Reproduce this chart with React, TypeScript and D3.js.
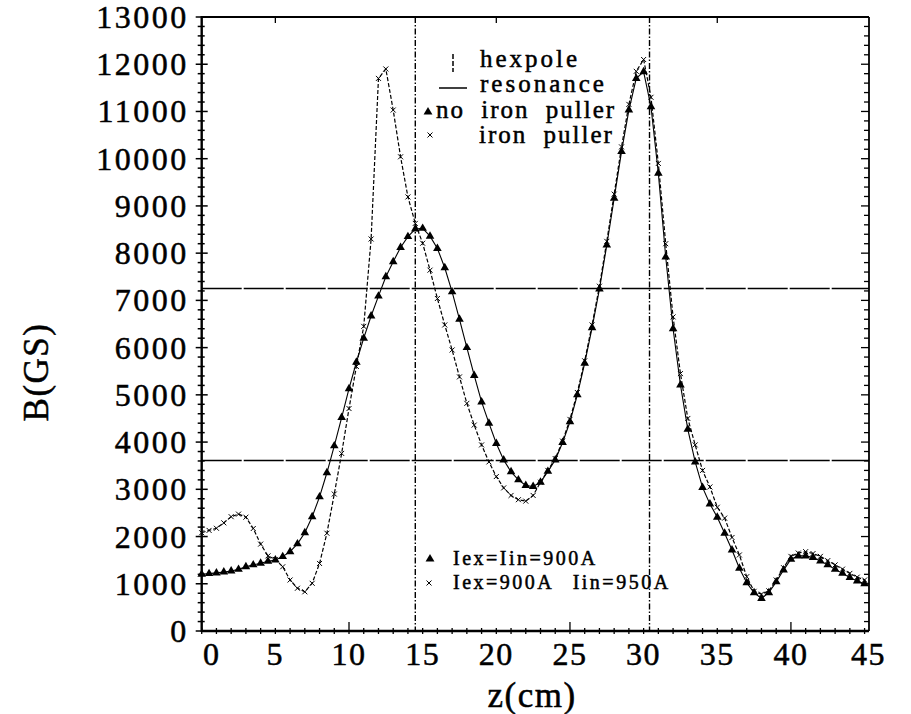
import React from "react";
import * as d3 from "d3";

// z positions (cm) of the measured points
const zPos = [
  0, 0.5, 1, 1.5, 2, 2.5, 3, 3.5, 4, 4.5, 5, 5.5, 6, 6.5, 7, 7.5, 8, 8.5, 9, 9.5,
  10, 10.5, 11, 11.5, 12, 12.5, 13, 13.5, 14, 14.5, 15, 15.5, 16, 16.5, 17, 17.5,
  18, 18.5, 19, 19.5, 20, 20.5, 21, 21.5, 22, 22.5, 23, 23.5, 24, 24.5, 25, 25.5,
  26, 26.5, 27, 27.5, 28, 28.5, 29, 29.5, 30, 30.5, 31, 31.5, 32, 32.5, 33, 33.5,
  34, 34.5, 35, 35.5, 36, 36.5, 37, 37.5, 38, 38.5, 39, 39.5, 40, 40.5, 41, 41.5,
  42, 42.5, 43, 43.5, 44, 44.5, 45,
];

// no iron puller, Iex=Iin=900A (triangles)
const bNoPuller = [
  1200, 1215, 1230, 1250, 1270, 1305, 1360, 1400, 1435, 1475, 1505, 1575, 1680, 1845, 2080, 2420,
  2840, 3350, 3920, 4520, 5130, 5690, 6200, 6670, 7090, 7500, 7820, 8120, 8350, 8510, 8525, 8360,
  8100, 7690, 7180, 6600, 6000, 5410, 4850, 4400, 3970, 3620, 3370, 3200, 3080, 3060, 3150, 3380,
  3620, 3990, 4430, 5000, 5670, 6420, 7240, 8170, 9160, 10150, 11030, 11700, 11840, 11100, 9690,
  7920, 6400, 5210, 4270, 3580, 3040, 2690, 2410, 2070, 1715, 1330, 1020, 810, 690, 810, 1040,
  1290, 1520, 1590, 1590, 1555, 1480, 1400, 1305, 1220, 1130, 1060, 1000,
];

// iron puller, Iex=900A Iin=950A (crosses)
const bPuller = [
  2080, 2130, 2175, 2290, 2420, 2475, 2410, 2170, 1840, 1590, 1515, 1360, 1080, 905, 830, 1010,
  1430, 2070, 2900, 3760, 4710, 5600, 6450, 8300, 11700, 11900, 11030, 10040, 9190, 8630, 8210,
  7640, 7040, 6480, 5950, 5380, 4820, 4360, 3940, 3580, 3270, 3030, 2870, 2780, 2750, 2870, 3150,
  3400, 3650, 4020, 4480, 5050, 5720, 6480, 7300, 8250, 9250, 10250, 11150, 11850, 12100, 11300,
  9900, 8200, 6650, 5450, 4500, 3940, 3400, 3050, 2620, 2390, 1980, 1610, 1150, 840, 780, 850,
  1080, 1340, 1580, 1650, 1680, 1640, 1580, 1490, 1400, 1310, 1220, 1140, 1080,
];

const yTickLabels = [0, 1000, 2000, 3000, 4000, 5000, 6000, 7000, 8000, 9000, 10000, 11000, 12000, 13000];
const xTickLabels = [0, 5, 10, 15, 20, 25, 30, 35, 40, 45];
const hexpoleZ = [14.5, 30.4];
const resonanceB = [3610, 7250];

const FONT = "'Liberation Serif', 'Times New Roman', serif";
const heavy = { stroke: "#000", strokeWidth: 0.5 } as const;

export default function App() {
  const x = d3.scaleLinear().domain([0, 45.3]).range([201.7, 869]);
  const y = d3.scaleLinear().domain([0, 13000]).range([631, 17]);
  const [x0, x1] = x.range();
  const [y0, y1] = y.range();

  const pts1 = zPos.map((z, i) => [z, bNoPuller[i]] as [number, number]);
  const pts2 = zPos.map((z, i) => [z, bPuller[i]] as [number, number]);
  const line = d3
    .line<[number, number]>()
    .x((d) => x(d[0]))
    .y((d) => y(d[1]));
  const tri = d3.symbol().type(d3.symbolTriangle).size(32)() as string;
  const triLeg = d3.symbol().type(d3.symbolTriangle).size(34)() as string;
  const cross = "M-2.5,-2.5L2.5,2.5M-2.5,2.5L2.5,-2.5";

  const yMinor = d3.range(0, 13001, 200);
  const xMinor = d3.range(0, 46, 1);

  return (
    <svg
      width={911}
      height={714}
      style={{ position: "absolute", left: 0, top: 0, background: "#fff" }}
    >
      <rect x={0} y={0} width={911} height={714} fill="#fff" />
      {/* frame */}
      <line x1={x0} x2={x0} y1={y1 - 1} y2={y0 + 1} stroke="#000" strokeWidth={2.4} />
      <line x1={x0} x2={x1} y1={y0} y2={y0} stroke="#000" strokeWidth={2.4} />
      <line x1={x0} x2={x1} y1={y1} y2={y1} stroke="#000" strokeWidth={1.8} />
      <line x1={x1} x2={x1} y1={y1} y2={y0} stroke="#000" strokeWidth={1.8} />

      {/* left axis ticks (crossing) */}
      {yMinor.map((v) => {
        const major = v % 1000 === 0;
        return (
          <line
            key={"yl" + v}
            x1={x0 - (major ? 6 : 4)}
            x2={x0 + (major ? 6 : 3)}
            y1={y(v)}
            y2={y(v)}
            stroke="#000"
            strokeWidth={1.5}
          />
        );
      })}
      {/* right axis ticks (inward) */}
      {yMinor.map((v) => {
        const major = v % 1000 === 0;
        return (
          <line
            key={"yr" + v}
            x1={x1 - (major ? 8 : 5)}
            x2={x1}
            y1={y(v)}
            y2={y(v)}
            stroke="#000"
            strokeWidth={1.3}
          />
        );
      })}
      {/* bottom axis ticks */}
      {xMinor.map((v) => {
        const major = v === 10 || v === 25 || v === 40;
        return (
          <line
            key={"xb" + v}
            x1={x(v)}
            x2={x(v)}
            y1={y0 - (major ? 9 : 3)}
            y2={y0 + 3}
            stroke="#000"
            strokeWidth={1.3}
          />
        );
      })}
      {/* top axis ticks */}
      {[5, 20, 35].map((v) => (
        <line key={"xt" + v} x1={x(v)} x2={x(v)} y1={y1} y2={y1 + 6} stroke="#000" strokeWidth={1.3} />
      ))}

      {/* y tick labels */}
      {yTickLabels.map((v) => (
        <text
          key={"ylab" + v}
          x={x0 - 13}
          y={y(v) + 11}
          textAnchor="end"
          fontFamily={FONT}
          fontSize={32}
          letterSpacing={2.5}
          {...heavy}
        >
          {v}
        </text>
      ))}
      {/* x tick labels */}
      {xTickLabels.map((v) => (
        <text
          key={"xlab" + v}
          x={v === 0 ? x(v) + 10 : v === 45 ? x(v) + 4 : x(v)}
          y={665}
          textAnchor="middle"
          fontFamily={FONT}
          fontSize={32}
          letterSpacing={1.5}
          {...heavy}
        >
          {v}
        </text>
      ))}

      {/* axis titles */}
      <text x={532} y={707} textAnchor="middle" fontFamily={FONT} fontSize={35} letterSpacing={1.5} {...heavy}>
        z(cm)
      </text>
      <text
        transform={`translate(48,${372}) rotate(-90)`}
        textAnchor="middle"
        fontFamily={FONT}
        fontSize={35}
        letterSpacing={1.5}
        {...heavy}
      >
        B(GS)
      </text>

      {/* resonance lines */}
      {resonanceB.map((b) => (
        <line
          key={"res" + b}
          x1={x0}
          x2={x1}
          y1={y(b)}
          y2={y(b)}
          stroke="#000"
          strokeWidth={1.5}
          strokeDasharray="40,2"
        />
      ))}
      {/* hexpole lines */}
      {hexpoleZ.map((z) => (
        <line
          key={"hex" + z}
          x1={x(z)}
          x2={x(z)}
          y1={y1}
          y2={y0}
          stroke="#000"
          strokeWidth={1.4}
          strokeDasharray="6,2,1.5,2"
        />
      ))}

      {/* series lines */}
      <path d={line(pts2) as string} fill="none" stroke="#000" strokeWidth={1.2} strokeDasharray="4,2" />
      <path d={line(pts1) as string} fill="none" stroke="#000" strokeWidth={1.1} />
      {/* markers */}
      {pts2.map((p, i) => (
        <path
          key={"c" + i}
          d={cross}
          transform={`translate(${x(p[0])},${y(p[1])})`}
          stroke="#000"
          strokeWidth={1}
          fill="none"
        />
      ))}
      {pts1.map((p, i) => (
        <path key={"t" + i} d={tri} transform={`translate(${x(p[0])},${y(p[1])})`} fill="#000" />
      ))}

      {/* top legend */}
      <line x1={453} x2={453} y1={54} y2={72} stroke="#000" strokeWidth={1.5} strokeDasharray="5,2" />
      <text x={480} y={67} fontFamily={FONT} fontSize={25} letterSpacing={3} {...heavy}>
        hexpole
      </text>
      <line x1={439} x2={467} y1={88} y2={88} stroke="#000" strokeWidth={1.5} />
      <text x={480} y={92} fontFamily={FONT} fontSize={25} letterSpacing={3} {...heavy}>
        resonance
      </text>
      <path d={triLeg} transform="translate(428,112)" fill="#000" />
      <text x={436} y={118} fontFamily={FONT} fontSize={25} letterSpacing={2} wordSpacing={8} {...heavy}>
        no iron puller
      </text>
      <path d={cross} transform="translate(430,135)" stroke="#000" strokeWidth={1} fill="none" />
      <text x={479} y={143} fontFamily={FONT} fontSize={25} letterSpacing={2} wordSpacing={8} {...heavy}>
        iron puller
      </text>

      {/* bottom legend */}
      <path d={triLeg} transform="translate(430,559)" fill="#000" />
      <text x={453} y={565} fontFamily={FONT} fontSize={20} letterSpacing={2.5} {...heavy}>
        Iex=Iin=900A
      </text>
      <path d={cross} transform="translate(429,583)" stroke="#000" strokeWidth={1} fill="none" />
      <text x={453} y={589} fontFamily={FONT} fontSize={20} letterSpacing={2.5} wordSpacing={12} {...heavy}>
        Iex=900A Iin=950A
      </text>
    </svg>
  );
}
